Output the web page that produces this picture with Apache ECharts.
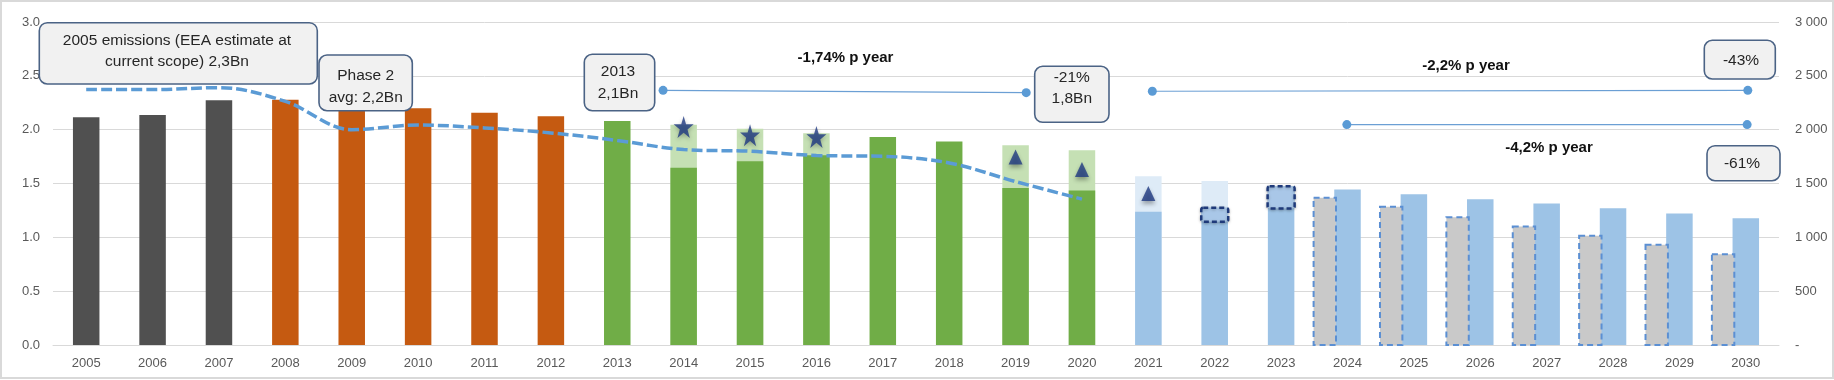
<!DOCTYPE html>
<html>
<head>
<meta charset="utf-8">
<script src="https://cdn.jsdelivr.net/npm/echarts@6/dist/echarts.min.js"></script>
<style>
html,body{margin:0;padding:0;background:#fff;}
#chart{width:1834px;height:380px;}
</style>
</head>
<body>
<div id="chart"></div>
<script>
// ---------- data ----------
var years = ['2005','2006','2007','2008','2009','2010','2011','2012','2013','2014','2015','2016','2017',
             '2018','2019','2020','2021','2022','2023','2024','2025','2026','2027','2028','2029','2030'];
// cap actually available (Bn t), solid part of the bars, 2005-2023
var capMain = [2.115, 2.136, 2.273, 2.279, 2.23, 2.198, 2.158, 2.124, 2.08, 1.646, 1.707, 1.763, 1.932,
               1.89, 1.459, 1.435, 1.237, 1.274, 1.475, null, null, null, null, null, null, null];
// full cap including withheld / set-aside volumes (light tops)
var capTotal = [null, null, null, null, null, null, null, null, null, 2.046, 2.008, 1.967, null,
                null, 1.855, 1.809, 1.568, 1.524, null, null, null, null, null, null, null, null];
// projected cap 2024-2030 (Mt, right axis)
var capProjected = [null, null, null, null, null, null, null, null, null, null, null, null, null,
                    null, null, null, null, null, null, 1444, 1400, 1354, 1314, 1271, 1222, 1178];
// projected cap under revised trajectory 2024-2030 (Mt, right axis)
var capRevised = [1367, 1283, 1187, 1101, 1014, 930, 844];
var capRevisedYears = ['2024','2025','2026','2027','2028','2029','2030'];
// verified emissions (Bn t), EEA estimate at current scope
var emissions = [2.372, 2.372, 2.39, 2.263, 2.0, 2.043, 2.016, 1.97, 1.90, 1.815, 1.80, 1.76, 1.753,
                 1.691, 1.518, 1.355];
// markers
var starYears = ['2014','2015','2016'];
var starValues = [2.025, 1.948, 1.932];
var triYears = ['2019','2020','2021'];
var triValues = [1.747, 1.63, 1.407];
// dashed highlight boxes [year, top, bottom]
var dashBoxes = [['2022', 1.274, 1.144], ['2023', 1.475, 1.268]];
// trend reference lines (x in category index units, y in Bn)
var trend1 = [[8.69, 2.365], [14.16, 2.344]];
var trend2 = [[16.06, 2.357], [25.03, 2.365]];
var trend3 = [[18.99, 2.047], [25.02, 2.047]];
var leftTicks = [0, 0.5, 1, 1.5, 2, 2.5, 3];

// ---------- colours ----------
function mainColor(i){
  var y = +years[i];
  if (y <= 2007) return '#505050';
  if (y <= 2012) return '#c55a11';
  if (y <= 2020) return '#70ad47';
  return '#9dc3e6';
}
function topColor(i){
  return (+years[i] <= 2020) ? '#c5e0b4' : '#deebf7';
}

var chart = echarts.init(document.getElementById('chart'), null, {renderer:'canvas'});
var FONT = '"Liberation Sans", Arial, sans-serif';
var BW = 26.5;
var starPath = 'path://M50,0 L61.5,36 L98,36 L68.5,58 L79.5,95 L50,72 L20.5,95 L31.5,58 L2,36 L38.5,36 Z';

function box(x1, y1, x2, y2, lines, cx, ys){
  var els = [{
    type:'rect', z:100,
    shape:{x:x1, y:y1, width:x2-x1, height:y2-y1, r:8},
    style:{fill:'#f1f1f1', stroke:'#4b6385', lineWidth:1.6}
  }];
  lines.forEach(function(t, k){
    els.push({type:'text', z:101, x:cx, y:ys[k],
      style:{text:t, font:'15.5px ' + FONT, fill:'#262626', align:'center', verticalAlign:'middle'}});
  });
  return els;
}
function boldText(t, cx, cy){
  return {type:'text', z:101, x:cx, y:cy,
    style:{text:t, font:'bold 15px ' + FONT, fill:'#111', align:'center', verticalAlign:'middle'}};
}

var graphics = [
  {type:'rect', z:0, silent:true, shape:{x:1, y:1, width:1832, height:377},
   style:{fill:'none', stroke:'#d9d9d9', lineWidth:2}}
].concat(
  box(39.3, 22.7, 317.3, 84, ['2005 emissions (EEA estimate at', 'current scope) 2,3Bn'], 177, [40.5, 61.5]),
  box(319, 55, 412.3, 110.7, ['Phase 2', 'avg: 2,2Bn'], 365.7, [76, 97.5]),
  box(584.3, 54.3, 654.7, 110.7, ['2013', '2,1Bn'], 618, [72, 93.5]),
  box(1034.7, 66.3, 1109, 122.3, ['-21%', '1,8Bn'], 1071.8, [77.5, 98.5]),
  box(1704.3, 40.3, 1775.3, 79, ['-43%'], 1741, [61]),
  box(1707, 145.7, 1780, 180.7, ['-61%'], 1742, [163.5]),
  [boldText('-1,74% p year', 845.5, 57.5),
   boldText('-2,2% p year', 1466, 66),
   boldText('-4,2% p year', 1549, 147.5)]
);

var axisLabelStyle = {color:'#595959', fontSize:13, fontFamily:FONT};

var option = {
  animation:false,
  backgroundColor:'#ffffff',
  grid:{left:53, right:55, top:22, bottom:35, containLabel:false},
  xAxis:[
    {type:'category', data:years, boundaryGap:true,
     axisLine:{show:true, lineStyle:{color:'#d9d9d9', width:1}},
     axisTick:{show:false},
     axisLabel:Object.assign({margin:12, interval:0}, axisLabelStyle),
     splitLine:{show:false}},
    {type:'value', min:-0.5, max:25.5, show:false}
  ],
  yAxis:[
    {type:'value', min:0, max:3, interval:0.5,
     axisLine:{show:false}, axisTick:{show:false},
     axisLabel:Object.assign({margin:13, formatter:function(v){return v.toFixed(1);}}, axisLabelStyle),
     splitLine:{show:true, lineStyle:{color:'#d9d9d9', width:1}}},
    {type:'value', min:0, max:3000, interval:500, position:'right',
     axisLine:{show:false}, axisTick:{show:false},
     axisLabel:Object.assign({margin:16, formatter:function(v){
        return v === 0 ? '-' : String(v).replace(/\B(?=(\d{3})+(?!\d))/g, ' ');}}, axisLabelStyle),
     splitLine:{show:false}}
  ],
  series:[
    {name:'Cap incl. withheld', type:'bar', xAxisIndex:0, yAxisIndex:0, barWidth:BW, barGap:'-100%', z:2,
     data:capTotal.map(function(v, i){ return v == null ? null : {value:v, itemStyle:{color:topColor(i)}}; })},
    {name:'Cap', type:'bar', xAxisIndex:0, yAxisIndex:0, barWidth:BW, barGap:'-100%', z:3,
     data:capMain.map(function(v, i){ return v == null ? null : {value:v, itemStyle:{color:mainColor(i)}}; })},
    {name:'Projected cap', type:'bar', xAxisIndex:0, yAxisIndex:1, barWidth:BW, barGap:'-100%', z:3,
     itemStyle:{color:'#9dc3e6'}, data:capProjected},
    {name:'Revised cap', type:'custom', xAxisIndex:0, yAxisIndex:1, z:4,
     data:capRevisedYears.map(function(y, k){ return [years.indexOf(y), capRevised[k]]; }),
     renderItem:function(params, api){
       var top = api.coord([api.value(0), api.value(1)]);
       var base = api.coord([api.value(0), 0]);
       var w = 22.4, cx = top[0] - 22.7;
       return {type:'group', children:[
         {type:'rect', shape:{x:cx - w/2, y:top[1], width:w, height:base[1] - top[1]},
          style:{fill:'#c9c9c9', stroke:'none'}},
         {type:'rect', shape:{x:cx - w/2, y:top[1], width:w, height:base[1] - top[1]},
          style:{fill:'none', stroke:'#5b8fd3', lineWidth:2, lineDash:[6, 4]}}
       ]};
     }},
    {name:'Highlight', type:'custom', xAxisIndex:0, yAxisIndex:0, z:5,
     data:dashBoxes.map(function(b){ return [years.indexOf(b[0]), b[1], b[2]]; }),
     renderItem:function(params, api){
       var p1 = api.coord([api.value(0), api.value(1)]);
       var p2 = api.coord([api.value(0), api.value(2)]);
       var w = 27;
       return {type:'rect', shape:{x:p1[0] - w/2, y:p1[1], width:w, height:p2[1] - p1[1], r:2},
         style:{fill:'#a9c7e8', stroke:'#1f3a7a', lineWidth:2.5, lineDash:[5, 3],
                shadowBlur:3, shadowColor:'rgba(0,0,0,0.25)', shadowOffsetY:1}};
     }},
    {name:'Emissions', type:'line', xAxisIndex:0, yAxisIndex:0, z:6, smooth:0.35,
     symbol:'none', data:emissions,
     lineStyle:{color:'#5b9bd5', width:3.5, type:[11, 4], cap:'butt'}},
    {name:'Backloading', type:'scatter', xAxisIndex:0, yAxisIndex:0, z:7,
     symbol:starPath, symbolSize:[20, 22],
     itemStyle:{color:'#1f3a82', shadowBlur:4, shadowColor:'rgba(0,0,0,0.35)', shadowOffsetY:2},
     data:starYears.map(function(y, k){ return [years.indexOf(y), starValues[k]]; })},
    {name:'MSR', type:'scatter', xAxisIndex:0, yAxisIndex:0, z:7,
     symbol:'triangle', symbolSize:[14, 15],
     itemStyle:{color:'#1f3a82', shadowBlur:4, shadowColor:'rgba(0,0,0,0.4)', shadowOffsetY:3},
     data:triYears.map(function(y, k){ return [years.indexOf(y), triValues[k]]; })},
    {name:'Trend 1', type:'line', xAxisIndex:1, yAxisIndex:0, z:8, symbol:'circle', symbolSize:9,
     itemStyle:{color:'#5b9bd5'}, lineStyle:{color:'#6b9fd4', width:1.2}, data:trend1},
    {name:'Trend 2', type:'line', xAxisIndex:1, yAxisIndex:0, z:8, symbol:'circle', symbolSize:9,
     itemStyle:{color:'#5b9bd5'}, lineStyle:{color:'#6b9fd4', width:1.2}, data:trend2},
    {name:'Trend 3', type:'line', xAxisIndex:1, yAxisIndex:0, z:8, symbol:'circle', symbolSize:9,
     itemStyle:{color:'#5b9bd5'}, lineStyle:{color:'#6b9fd4', width:1.2}, data:trend3}
  ],
  graphic:{elements:graphics}
};
chart.setOption(option);
</script>
</body>
</html>
